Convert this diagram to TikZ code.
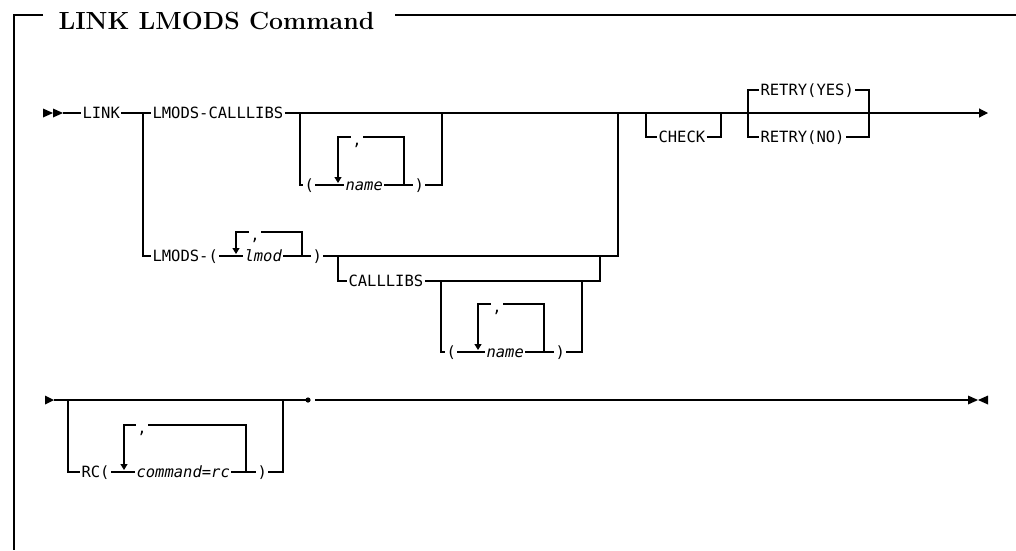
\documentclass[tikz,border=0pt]{standalone}
\usepackage{fontspec}
\newfontfamily\synfont{DejaVu Sans Mono}
\usetikzlibrary{arrows.meta}
\newcommand{\sepc}{\raisebox{-3pt}{,}}

\begin{document}
\begin{tikzpicture}[
    x=1pt, y=-1pt,
    line width=1.15pt,
    >={Triangle[width=7pt,length=6pt]},
    kw/.style={font=\synfont\fontsize{15.5}{18}\selectfont, inner xsep=1pt, inner ysep=0pt,
      text height=11.3pt, text depth=0pt, anchor=west},
    var/.style={kw, font=\synfont\fontsize{15.5}{18}\selectfont\itshape},
    sep/.style={kw, anchor=center}
  ]
    \useasboundingbox (0,0) rectangle (1016,550);

    % Rahmen und Titel
    \node[font=\fontsize{24.8}{28}\selectfont\bfseries, inner sep=0pt, anchor=base west] (title) at (58,29.5) {LINK LMODS Command};
    \draw (43,15) -- (14,15) -- (14,550);
    \draw (395,15) -- (1016,15);

    % Zeile 1: Startmarke
    \fill (43,108.5) -- (53,113) -- (43,117.5) -- cycle;
    \fill (53,108.5) -- (63,113) -- (53,117.5) -- cycle;
    \coordinate (in1) at (63,113);
    \coordinate (out1) at (988,113);
    \coordinate (br1) at (143,113);

    \node[kw] (link) at (81,113) {LINK};
    \node[kw] (lmcl) at (151,113) {LMODS-CALLLIBS};
    \node[kw] (lmods) at (151,256) {LMODS-(};

    \draw (in1) -- (link.west);
    \draw (link.east) -- (lmcl.west);
    \draw (br1) |- (lmods.west);
    \draw[-{Triangle[width=9pt,length=9pt]}] (lmcl.east) -- (out1);

    % ( name ) nach LMODS-CALLLIBS
    \coordinate (b1l) at (300,113);
    \coordinate (b1r) at (442,113);
    \coordinate (rep1a) at (338,183);
    \coordinate (rep1b) at (404,185);
    \node[kw] (lp1) at (303,185) {(};
    \node[var] (nm1) at (344,185) {name};
    \node[kw] (rp1) at (413,185) {)};
    \node[sep] (cm1) at (357,137) {\sepc};
    \draw (b1l) |- (lp1.west);
    \draw (lp1.east) -- (nm1.west);
    \draw (nm1.east) -- (rp1.west);
    \draw (rp1.east) -| (b1r);
    \draw (cm1.east) -| (rep1b);
    \draw[->] (cm1.west) -| (rep1a);

    % CHECK
    \coordinate (chkl) at (646,113);
    \coordinate (chkr) at (721,113);
    \node[kw] (chk) at (657,137) {CHECK};
    \draw (chkl) |- (chk.west);
    \draw (chk.east) -| (chkr);

    % RETRY
    \coordinate (rtl) at (748,113);
    \coordinate (rtr) at (869,113);
    \node[kw] (ryes) at (759,90) {RETRY(YES)};
    \node[kw] (rno) at (759,137) {RETRY(NO)};
    \draw (ryes.west) -| (rtl) |- (rno.west);
    \draw (ryes.east) -| (rtr) |- (rno.east);

    % LMODS-( lmod )
    \coordinate (b2r) at (618,113);
    \coordinate (rep2a) at (236,254);
    \coordinate (rep2b) at (302,256);
    \node[var] (lmod) at (243,256) {lmod};
    \node[kw] (rp2) at (311,256) {)};
    \node[sep] (cm2) at (255,232) {\sepc};
    \draw (lmods.east) -- (lmod.west);
    \draw (lmod.east) -- (rp2.west);
    \draw (rp2.east) -| (b2r);
    \draw (cm2.east) -| (rep2b);
    \draw[->] (cm2.west) -| (rep2a);

    % CALLLIBS ( name )
    \coordinate (cll) at (338,256);
    \coordinate (clr) at (600,256);
    \node[kw] (cl2) at (347,281) {CALLLIBS};
    \draw (cll) |- (cl2.west);
    \draw (cl2.east) -| (clr);

    \coordinate (b3l) at (441,281);
    \coordinate (b3r) at (582,281);
    \coordinate (rep3a) at (478,350);
    \coordinate (rep3b) at (544,352);
    \node[kw] (lp3) at (445,352) {(};
    \node[var] (nm3) at (485,352) {name};
    \node[kw] (rp3) at (554,352) {)};
    \node[sep] (cm3) at (497,304) {\sepc};
    \draw (b3l) |- (lp3.west);
    \draw (lp3.east) -- (nm3.west);
    \draw (nm3.east) -- (rp3.west);
    \draw (rp3.east) -| (b3r);
    \draw (cm3.east) -| (rep3b);
    \draw[->] (cm3.west) -| (rep3a);

    % Zeile 2
    \fill (45,395.5) -- (54,400) -- (45,404.5) -- cycle;
    \coordinate (in2) at (54,400);
    \coordinate (dot) at (308,400);
    \coordinate (out2) at (968,400);
    \draw (in2) -- (dot);
    \fill (dot) circle (2.6);
    \draw[line width=2.8pt] ([xshift=7pt]dot) -- ([xshift=25pt]dot);
    \draw ([xshift=25pt]dot) -- (out2);
    \fill (968,395.5) -- (978,400) -- (968,404.5) -- cycle;
    \fill (988,395.5) -- (978,400) -- (988,404.5) -- cycle;

    % RC( command=rc )
    \coordinate (b4l) at (68,400);
    \coordinate (b4r) at (283,400);
    \coordinate (rep4a) at (124,470);
    \coordinate (rep4b) at (246,472);
    \node[kw] (rc) at (80,472) {RC(};
    \node[var] (cmd) at (135,472) {command=rc};
    \node[kw] (rp4) at (256,472) {)};
    \node[sep] (cm4) at (142,425) {\sepc};
    \draw (b4l) |- (rc.west);
    \draw (rc.east) -- (cmd.west);
    \draw (cmd.east) -- (rp4.west);
    \draw (rp4.east) -| (b4r);
    \draw (cm4.east) -| (rep4b);
    \draw[->] (cm4.west) -| (rep4a);

  \end{tikzpicture}
\end{document}
